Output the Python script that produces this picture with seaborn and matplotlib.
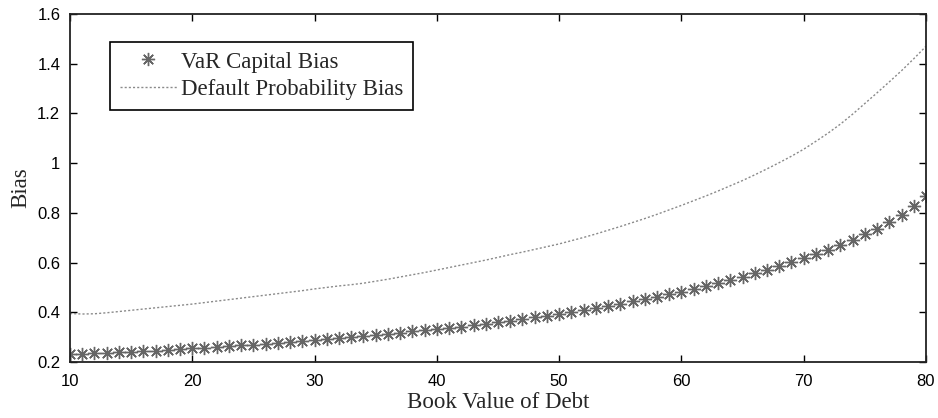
import numpy as np
import pandas as pd
import matplotlib
matplotlib.use("Agg")
import matplotlib.pyplot as plt
import seaborn as sns

book_value = list(range(10, 81))

var_capital_bias = [
    0.232, 0.234, 0.236, 0.238, 0.240, 0.242, 0.244, 0.246, 0.249, 0.252,
    0.255, 0.258, 0.261, 0.264, 0.267, 0.270, 0.273, 0.277, 0.280, 0.284,
    0.288, 0.292, 0.296, 0.300, 0.305, 0.310, 0.314, 0.318, 0.323, 0.327,
    0.332, 0.337, 0.342, 0.348, 0.354, 0.360, 0.366, 0.372, 0.379, 0.386,
    0.393, 0.401, 0.409, 0.417, 0.426, 0.435, 0.444, 0.453, 0.463, 0.473,
    0.483, 0.494, 0.505, 0.517, 0.530, 0.543, 0.557, 0.571, 0.586, 0.601,
    0.617, 0.634, 0.652, 0.671, 0.691, 0.713, 0.737, 0.763, 0.792, 0.826,
    0.868,
]

default_prob_bias = [
    0.395, 0.393, 0.394, 0.398, 0.403, 0.408, 0.413, 0.418, 0.423, 0.428,
    0.433, 0.439, 0.445, 0.451, 0.457, 0.463, 0.469, 0.475, 0.481, 0.487,
    0.494, 0.500, 0.506, 0.511, 0.517, 0.525, 0.533, 0.542, 0.551, 0.560,
    0.570, 0.580, 0.590, 0.600, 0.610, 0.621, 0.632, 0.642, 0.653, 0.664,
    0.675, 0.688, 0.701, 0.715, 0.730, 0.745, 0.761, 0.777, 0.794, 0.812,
    0.830, 0.849, 0.868, 0.888, 0.909, 0.930, 0.953, 0.977, 1.002, 1.028,
    1.056, 1.088, 1.121, 1.157, 1.197, 1.240, 1.283, 1.327, 1.372, 1.420,
    1.470,
]

x_ticks = [10, 20, 30, 40, 50, 60, 70, 80]
y_ticks = [0.2, 0.4, 0.6, 0.8, 1.0, 1.2, 1.4, 1.6]
y_tick_labels = ["0.2", "0.4", "0.6", "0.8", "1", "1.2", "1.4", "1.6"]

sns.set_style("ticks")
plt.rcParams["font.family"] = ["Liberation Sans", "DejaVu Sans"]
plt.rcParams["xtick.direction"] = "in"
plt.rcParams["ytick.direction"] = "in"

df = pd.DataFrame({"x": book_value, "var": var_capital_bias, "dp": default_prob_bias})

fig = plt.figure(figsize=(9.38, 4.18), dpi=100)
ax = fig.add_axes([0.0746, 0.134, 0.9126, 0.8325])

sns.lineplot(data=df, x="x", y="var", ax=ax, marker=(8, 2, 0), markersize=9.5,
             markeredgewidth=1.0, color="#666666", markeredgecolor="#666666",
             linestyle="none", label="VaR Capital Bias")
sns.lineplot(data=df, x="x", y="dp", ax=ax, color="#8a8a8a", linestyle=(0, (1.5, 1.5)),
             linewidth=1.0, label="Default Probability Bias")

ax.set_xlim(10, 80)
ax.set_ylim(0.2, 1.6)
ax.set_xticks(x_ticks)
ax.set_xticklabels([str(v) for v in x_ticks])
ax.set_yticks(y_ticks)
ax.set_yticklabels(y_tick_labels)
ax.tick_params(axis="both", which="both", direction="in", top=True, right=True,
               length=5, width=1, labelsize=12, colors="black")
ax.tick_params(axis="x", pad=9)
ax.tick_params(axis="y", pad=7)
for s in ax.spines.values():
    s.set_visible(True)
    s.set_linewidth(1.3)
    s.set_color("#222222")

ax.set_xlabel("Book Value of Debt", family=["Liberation Serif"], fontsize=16.5, labelpad=2)
ax.set_ylabel("Bias", family=["Liberation Serif"], fontsize=16.5, labelpad=4)

leg = ax.legend(loc="upper left", bbox_to_anchor=(0.047, 0.92), frameon=True,
                fancybox=False, framealpha=1, edgecolor="black",
                prop={"family": "Liberation Serif", "size": 16.5},
                handlelength=2.5, borderpad=0.42, labelspacing=0.3, handletextpad=0.15,
                borderaxespad=0)
leg.get_frame().set_linewidth(1.2)

fig.savefig("out.png", dpi=100)
